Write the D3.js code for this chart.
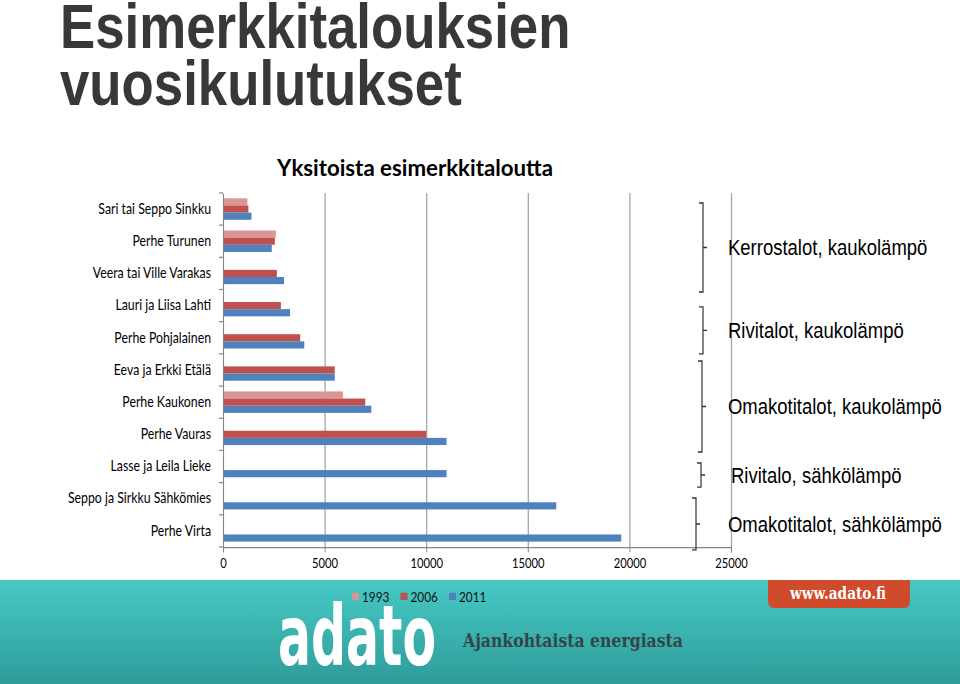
<!DOCTYPE html>
<html><head><meta charset="utf-8">
<script src="https://cdn.jsdelivr.net/npm/d3@7"></script>
<style>body{margin:0;background:#fff;overflow:hidden}</style>
</head><body>
<svg id="c" width="960" height="684" viewBox="0 0 960 570" preserveAspectRatio="none"></svg>
<script>
// ---------- data ----------
const categories = ["Sari tai Seppo Sinkku","Perhe Turunen","Veera tai Ville Varakas","Lauri ja Liisa Lahti","Perhe Pohjalainen","Eeva ja Erkki Etälä","Perhe Kaukonen","Perhe Vauras","Lasse ja Leila Lieke","Seppo ja Sirkku Sähkömies","Perhe Virta"];
const years = ["1993","2006","2011"];
const values1993 = [1200,2600,null,null,null,null,5900,null,null,null,null];
const values2006 = [1250,2550,2650,2850,3800,5500,7000,10000,null,null,null];
const values2011 = [1400,2400,3000,3300,4000,5500,7300,11000,11000,16400,19600];
const xTicks = [0,5000,10000,15000,20000,25000];
const groupLabels = ["Kerrostalot, kaukolämpö","Rivitalot, kaukolämpö","Omakotitalot, kaukolämpö","Rivitalo, sähkölämpö","Omakotitalot, sähkölämpö"];
const groupStart = [0.31,3.54,5.22,8.39,9.48];   // in category units
const groupEnd   = [3.08,5.0,8.05,9.14,11.09];

const colors = {"1993":"#d99694","2006":"#c0504d","2011":"#4f81bd"};
const series = {"1993":values1993,"2006":values2006,"2011":values2011};

const svg = d3.select("#c");
const W = 960, H = 570;

// ---------- title ----------
const title = svg.append("g").attr("fill","#383838")
  .style("font-family","'Liberation Sans',Arial,sans-serif").style("font-weight","bold").style("font-size","52.8px");
title.append("text").attr("x",60).attr("y",40).text("Esimerkkitalouksien");
title.append("text").attr("x",60).attr("y",87.3).text("vuosikulutukset");

// ---------- chart ----------
const pL = 223, pR = 731, pT = 160.8, pB = 455.8;
const x = d3.scaleLinear().domain([0,25000]).range([pL,pR]);
const y = d3.scaleBand().domain(categories).range([pT,pB]);
const yi = d3.scaleBand().domain(years).range([0,y.bandwidth()]).paddingInner(0).paddingOuter(0.75);

svg.append("text").attr("x",277).attr("y",146.5)
  .attr("textLength",276).attr("lengthAdjust","spacingAndGlyphs")
  .style("font-family","Lato,'Open Sans',sans-serif").style("font-weight","bold").style("font-size","19.5px")
  .attr("fill","#000").text("Yksitoista esimerkkitaloutta");

// grid
svg.append("g").attr("transform",`translate(0,${pB})`)
  .call(d3.axisBottom(x).tickValues(xTicks.slice(1)).tickSize(-(pB-pT)).tickFormat(""))
  .call(g=>g.select(".domain").remove())
  .call(g=>g.selectAll("line").attr("stroke","#a6a6a6").attr("stroke-width",1.3));

// bars
const rows = [];
categories.forEach((c,i)=>years.forEach(yr=>{ if(series[yr][i]!=null) rows.push({c,yr,v:series[yr][i]}); }));
svg.append("g").selectAll("rect").data(rows).join("rect")
  .attr("x",x(0)).attr("y",d=>y(d.c)+yi(d.yr))
  .attr("width",d=>x(d.v)-x(0)).attr("height",yi.bandwidth())
  .attr("fill",d=>colors[d.yr]);

// x axis
svg.append("g").attr("transform",`translate(0,${pB})`)
  .call(d3.axisBottom(x).tickValues(xTicks).tickSize(4.5).tickPadding(5).tickFormat(d3.format("d")))
  .call(g=>g.select(".domain").attr("stroke","#868686").attr("stroke-width",1.1))
  .call(g=>g.selectAll("line").attr("stroke","#868686"))
  .call(g=>g.selectAll("text").attr("fill","#000").style("font-family","Lato,'Open Sans',sans-serif").style("font-size","11.2px"));

// y axis
const ya = svg.append("g").attr("transform",`translate(${pL},0)`)
  .call(d3.axisLeft(y).tickSize(0).tickPadding(12))
  .call(g=>g.select(".domain").attr("stroke","#868686").attr("stroke-width",1.1))
  .call(g=>g.selectAll("text").attr("fill","#000").style("font-family","Lato,'Open Sans',sans-serif").style("font-size","12.3px"));
const bounds = categories.map(c=>y(c)).concat([pB]);
ya.selectAll("line.bt").data(bounds).join("line").attr("class","bt")
  .attr("x1",-4).attr("x2",0).attr("y1",d=>d).attr("y2",d=>d).attr("stroke","#868686");

// group brackets
const bx = [703,703,702,701,696];
const tx = [728,728,728,731,728];
const yAt = f => pT + f*y.step();
const gb = svg.append("g");
groupLabels.forEach((lab,i)=>{
  const y0 = yAt(groupStart[i]), y1 = yAt(groupEnd[i]), ym = (y0+y1)/2;
  gb.append("path").attr("d",`M${bx[i]-4},${y0}H${bx[i]}V${y1}H${bx[i]-4}M${bx[i]},${ym}H${bx[i]+4}`)
    .attr("fill","none").attr("stroke","#333").attr("stroke-width",1.2);
  gb.append("text").attr("x",tx[i]).attr("y",ym).attr("dy","0.36em")
    .style("font-family","'Liberation Sans',Arial,sans-serif").style("font-size","18.5px").attr("fill","#000").text(lab);
});

// ---------- footer ----------
const defs = svg.append("defs");
const lg = defs.append("linearGradient").attr("id","teal").attr("x1",0).attr("x2",0).attr("y1",0).attr("y2",1);
lg.append("stop").attr("offset","0").attr("stop-color","#47c9c5");
lg.append("stop").attr("offset","1").attr("stop-color","#2e9c99");
const fTop = 483.3;
svg.append("rect").attr("x",0).attr("y",fTop).attr("width",W).attr("height",H-fTop).attr("fill","url(#teal)");

// red web-address tab (square top, rounded bottom)
const bxL = 768, bxR = 910, bxB = 506.7, r = 6;
svg.append("path")
  .attr("d",`M${bxL},${fTop}H${bxR}V${bxB-r}Q${bxR},${bxB} ${bxR-r},${bxB}H${bxL+r}Q${bxL},${bxB} ${bxL},${bxB-r}Z`)
  .attr("fill","#d04a2c");
svg.append("text").attr("x",790).attr("y",499.5).attr("fill","#fff")
  .attr("textLength",96).attr("lengthAdjust","spacingAndGlyphs")
  .style("font-family","'DejaVu Serif',serif").style("font-weight","bold").style("font-size","13.5px").text("www.adato.fi");

// logo word: sized so its natural width is the logo width, then stretched vertically
const logo = svg.append("text").attr("fill","#fff")
  .style("font-family","'DejaVu Sans Condensed','DejaVu Sans',sans-serif").style("font-weight","bold").style("font-size","70px").text("adato");
const natW = logo.node().getComputedTextLength();
const fs = 70*158/natW;
logo.style("font-size",fs+"px").attr("transform",`translate(278,554.2) scale(1,${70/fs})`);

svg.append("text").attr("x",463).attr("y",539.4).attr("fill","#344646")
  .attr("textLength",220).attr("lengthAdjust","spacingAndGlyphs")
  .style("font-family","'DejaVu Serif',serif").style("font-weight","bold").style("font-size","15.5px").text("Ajankohtaista energiasta");

// legend
const lgd = svg.append("g").attr("transform","translate(352,497)");
years.forEach((yr,i)=>{
  const gi = lgd.append("g").attr("transform",`translate(${i*48.5},0)`);
  gi.append("rect").attr("x",0).attr("y",-3).attr("width",7).attr("height",6).attr("fill",colors[yr]);
  gi.append("text").attr("x",10).attr("y",0).attr("dy","0.36em").attr("fill","#111")
    .style("font-family","Lato,'Open Sans',sans-serif").style("font-size","11.8px").text(yr);
});
</script>
</body></html>
